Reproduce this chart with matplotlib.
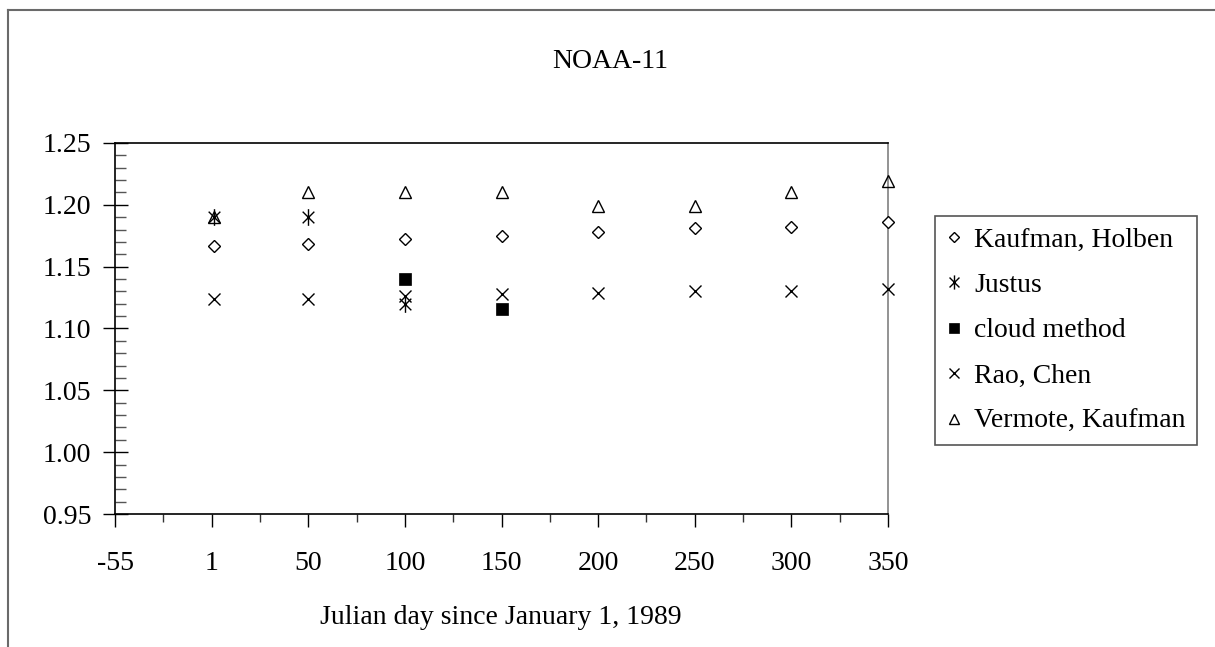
import numpy as np
import matplotlib
matplotlib.use("Agg")
import matplotlib.pyplot as plt
from matplotlib.path import Path
from matplotlib.lines import Line2D
from matplotlib.ticker import MultipleLocator, FixedLocator

# ---- data ----
days = [1, 50, 100, 150, 200, 250, 300, 350]
kaufman_holben = [1.167, 1.168, 1.172, 1.175, 1.178, 1.181, 1.182, 1.186]
justus_days = [1, 50, 100]
justus = [1.190, 1.190, 1.120]
cloud_days = [100, 150]
cloud_method = [1.140, 1.116]
rao_chen = [1.124, 1.124, 1.126, 1.128, 1.129, 1.130, 1.130, 1.132]
vermote_kaufman = [1.190, 1.210, 1.210, 1.210, 1.199, 1.199, 1.210, 1.219]

xtick_pos = [-50, 0, 50, 100, 150, 200, 250, 300, 350]
xtick_labels = ["-55", "1", "50", "100", "150", "200", "250", "300", "350"]
ytick_vals = [0.95, 1.00, 1.05, 1.10, 1.15, 1.20, 1.25]

plt.rcParams['font.family'] = ['Liberation Serif', 'DejaVu Serif']
FS = 20

W, H = 1215, 647
fig = plt.figure(figsize=(W / 100, H / 100), dpi=100)
fig.patch.set_facecolor('white')

# outer border (top and left visible)
fig.add_artist(Line2D([8 / W, 8 / W], [0, 1 - 10 / H], transform=fig.transFigure,
                      color='#6a6a6a', lw=1.5))
fig.add_artist(Line2D([8 / W, 1], [1 - 10 / H, 1 - 10 / H], transform=fig.transFigure,
                      color='#6a6a6a', lw=1.5))

ax = fig.add_axes([115 / W, 1 - 514 / H, (888 - 115) / W, (514 - 143) / H])

# custom asterisk marker (vertical line + X)
d = 0.7
ast = Path([(0, -1), (0, 1), (-d, -d), (d, d), (-d, d), (d, -d)],
           [Path.MOVETO, Path.LINETO, Path.MOVETO, Path.LINETO, Path.MOVETO, Path.LINETO])

mew = 1.0
ax.plot(days, kaufman_holben, ls='none', marker='D', ms=6.3, mfc='white', mec='black',
        mew=mew, label='Kaufman, Holben', zorder=3, clip_on=False)
ax.plot(justus_days, justus, ls='none', marker=ast, ms=12, mfc='none', mec='black',
        mew=mew, label='Justus', zorder=4, clip_on=False)
ax.plot(cloud_days, cloud_method, ls='none', marker='s', ms=8, mfc='black', mec='black',
        mew=0.5, label='cloud method', zorder=3, clip_on=False)
ax.plot(days, rao_chen, ls='none', marker='x', ms=8.5, mec='black',
        mew=mew, label='Rao, Chen', zorder=3, clip_on=False)
ax.plot(days, vermote_kaufman, ls='none', marker='^', ms=8.6, mfc='none', mec='black',
        mew=mew, label='Vermote, Kaufman', zorder=3, clip_on=False)

ax.set_xlim(-50, 350)
ax.set_ylim(0.95, 1.25)
ax.xaxis.set_major_locator(FixedLocator(xtick_pos))
ax.set_xticklabels(xtick_labels)
ax.xaxis.set_minor_locator(MultipleLocator(25))
ax.yaxis.set_major_locator(FixedLocator(ytick_vals))
ax.set_yticklabels([f"{v:.2f}" for v in ytick_vals])
ax.yaxis.set_minor_locator(MultipleLocator(0.01))

ax.tick_params(axis='x', which='major', direction='out', length=9, width=1, pad=18,
               labelsize=FS, color='black')
ax.tick_params(axis='x', which='minor', direction='out', length=6, width=1, color='#333333')
ax.tick_params(axis='y', which='major', direction='inout', length=18, width=1, pad=8,
               labelsize=FS, color='black')
ax.tick_params(axis='y', which='minor', direction='in', length=8, width=1, color='#555555')

for s in ['left', 'bottom', 'top']:
    ax.spines[s].set_color('black')
    ax.spines[s].set_linewidth(1.2)
ax.spines['right'].set_color('#808080')
ax.spines['right'].set_linewidth(1.2)

fig.text(610 / W, 1 - 62 / H, 'NOAA-11', ha='center', va='center', fontsize=FS)
fig.text(501 / W, 1 - 618 / H, 'Julian day since January 1, 1989', ha='center',
         va='center', fontsize=FS)

leg = ax.legend(loc='upper left', bbox_to_anchor=(935 / W, 1 - 216 / H),
                bbox_transform=fig.transFigure, borderaxespad=0, fontsize=FS,
                markerscale=0.85, handlelength=0.6, handletextpad=0.4,
                labelspacing=0.72, borderpad=0.4, fancybox=False, framealpha=1,
                edgecolor='#555555')
leg.get_frame().set_linewidth(1.2)

fig.savefig('out.png', dpi=100, facecolor='white')
